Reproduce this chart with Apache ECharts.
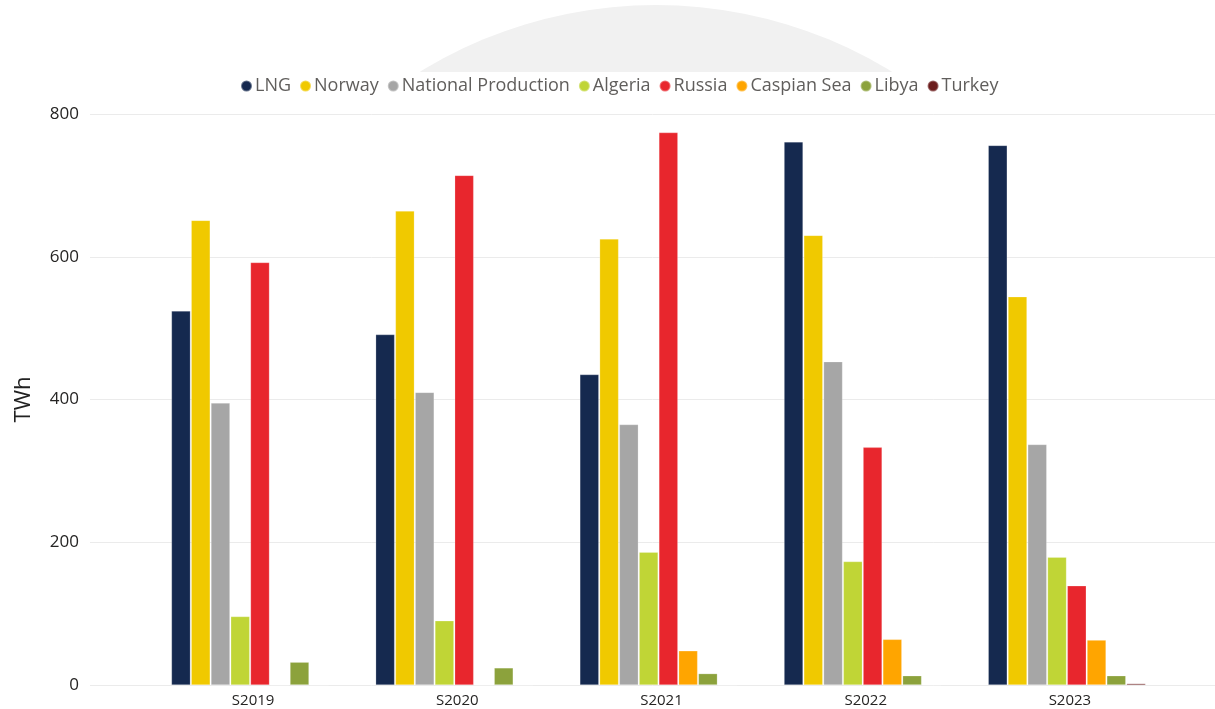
<!DOCTYPE html>
<html>
<head>
<meta charset="utf-8">
<script src="https://cdn.jsdelivr.net/npm/echarts@6/dist/echarts.min.js"></script>
<style>
html,body{margin:0;padding:0;background:#fff;}
#chart{width:1215px;height:709px;}
</style>
</head>
<body>
<div id="chart"></div>
<script>
const categories = ['S2019', 'S2020', 'S2021', 'S2022', 'S2023'];
const seriesNames = ['LNG', 'Norway', 'National Production', 'Algeria', 'Russia', 'Caspian Sea', 'Libya', 'Turkey'];
const lng        = [524, 491, 435, 761, 756];
const norway     = [651, 664, 625, 630, 544];
const national   = [395, 410, 365, 453, 337];
const algeria    = [96, 90, 186, 173, 179];
const russia     = [592, 714, 774, 333, 139];
const caspian    = [0, 0, 48, 64, 63];
const libya      = [32, 24, 16, 13, 13];
const turkey     = [0, 0, 0, 0, 2];
const yTicks = [0, 200, 400, 600, 800];

const values = [lng, norway, national, algeria, russia, caspian, libya, turkey];
const colors = ['#15294F', '#F0C900', '#A6A6A6', '#C0D536', '#E8262D', '#FFA500', '#8CA23C', '#6B1C1C'];

const chart = echarts.init(document.getElementById('chart'), null, {renderer: 'canvas'});
const fontFam = '"Open Sans", "Noto Sans", sans-serif';

const option = {
  backgroundColor: '#ffffff',
  animation: false,
  graphic: [
    { type: 'circle', z: -20, silent: true, shape: { cx: 656, cy: 456, r: 451 }, style: { fill: '#F1F1F1' } },
    { type: 'rect', z: -19, silent: true, shape: { x: 0, y: 72, width: 1215, height: 640 }, style: { fill: '#ffffff' } }
  ],
  legend: {
    data: seriesNames,
    top: 72,
    left: 235,
    icon: 'circle',
    itemWidth: 11,
    itemHeight: 11,
    itemGap: 8,
    textStyle: { fontFamily: fontFam, fontSize: 18, color: '#605E5C', padding: [0, 0, 0, -2] }
  },
  grid: [
    { left: 90, right: 0, top: 114, bottom: 24 },
    { left: 148, right: 46, top: 114, bottom: 24 }
  ],
  xAxis: [
    { type: 'category', gridIndex: 0, data: categories, show: false },
    {
      type: 'category', gridIndex: 1, data: categories,
      axisLine: { show: false }, axisTick: { show: false },
      axisLabel: { fontFamily: fontFam, fontSize: 15, color: '#252423', margin: 8, padding: [0, 0, 0, 6] }
    }
  ],
  yAxis: [
    {
      type: 'value', gridIndex: 0, min: yTicks[0], max: yTicks[yTicks.length - 1], interval: 200,
      name: 'TWh', nameLocation: 'middle', nameGap: 55,
      nameTextStyle: { fontFamily: fontFam, fontSize: 22, color: '#222222' },
      axisLine: { show: false }, axisTick: { show: false },
      axisLabel: { fontFamily: fontFam, fontSize: 17, color: '#252423', margin: 11 },
      splitLine: { lineStyle: { color: '#EBEBEB', width: 1 } }
    },
    {
      type: 'value', gridIndex: 1, min: yTicks[0], max: yTicks[yTicks.length - 1], interval: 200,
      show: false, splitLine: { show: false }
    }
  ],
  series: seriesNames.map((n, i) => ({
    name: n,
    type: 'bar',
    xAxisIndex: 1,
    yAxisIndex: 1,
    data: values[i],
    barWidth: 19,
    barGap: '4%',
    itemStyle: { color: colors[i], borderColor: 'rgba(255,255,255,0.35)', borderWidth: 0.6 },
    emphasis: { disabled: true }
  }))
};
chart.setOption(option);
</script>
</body>
</html>
